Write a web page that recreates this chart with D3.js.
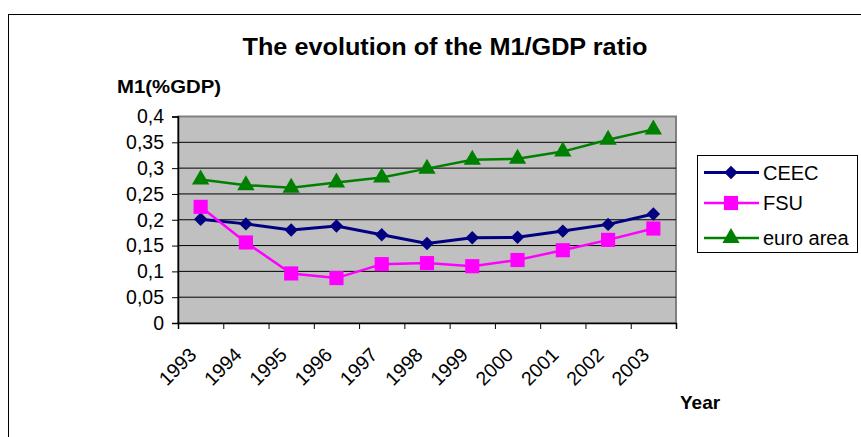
<!DOCTYPE html>
<html>
<head>
<meta charset="utf-8">
<script src="https://cdn.jsdelivr.net/npm/d3@7"></script>
<style>
  body { margin: 0; background: #fff; }
  text { font-family: Arial, "Liberation Sans", sans-serif; }
</style>
</head>
<body>
<svg id="chart"></svg>
<script>
const years = ['1993', '1994', '1995', '1996', '1997', '1998', '1999', '2000', '2001', '2002', '2003'];
const ceec = [0.201, 0.192, 0.180, 0.188, 0.171, 0.154, 0.165, 0.166, 0.178, 0.191, 0.211];
const fsu = [0.225, 0.156, 0.096, 0.087, 0.114, 0.116, 0.110, 0.122, 0.141, 0.161, 0.183];
const euroArea = [0.278, 0.267, 0.262, 0.272, 0.282, 0.299, 0.316, 0.318, 0.332, 0.355, 0.375];
const yTicks = [0, 0.05, 0.1, 0.15, 0.2, 0.25, 0.3, 0.35, 0.4];

// diamond = square turned 45 degrees
const diamond = {
  draw(context, size) {
    const r = Math.sqrt(size / 2);
    context.moveTo(0, -r);
    context.lineTo(r, 0);
    context.lineTo(0, r);
    context.lineTo(-r, 0);
    context.closePath();
  }
};

const series = [
  { name: 'CEEC', values: ceec, color: '#000080', symbol: diamond, size: 90, width: 3 },
  { name: 'FSU', values: fsu, color: '#FF00FF', symbol: d3.symbolSquare, size: 200, width: 2.5 },
  { name: 'euro area', values: euroArea, color: '#008000', symbol: d3.symbolTriangle, size: 130, width: 2.5 }
];

class LineChart {
  constructor(_config) {
    this.config = {
      parentElement: _config.parentElement,
      containerWidth: _config.containerWidth || 861,
      containerHeight: _config.containerHeight || 437,
      plot: { left: 178, right: 676, top: 116.5, bottom: 323 }
    }
    this.init();
  }

  init() {
    let vis = this;
    let p = vis.config.plot;

    vis.svg = d3.select(vis.config.parentElement)
      .attr('width', vis.config.containerWidth)
      .attr('height', vis.config.containerHeight);

    // outer chart frame (right and bottom edges fall outside the picture)
    vis.svg.append('rect')
      .attr('x', 8.5)
      .attr('y', 14.5)
      .attr('width', 900)
      .attr('height', 500)
      .style('fill', '#fff')
      .style('stroke', '#000')
      .style('stroke-width', 1);

    vis.x = d3.scaleBand().domain(years).range([p.left, p.right]);
    vis.y = d3.scaleLinear().domain([0, 0.4]).range([p.bottom, p.top]);

    vis.svg.append('rect')
      .attr('x', p.left)
      .attr('y', p.top)
      .attr('width', p.right - p.left)
      .attr('height', p.bottom - p.top)
      .style('fill', '#C0C0C0')
      .style('stroke', '#808080')
      .style('stroke-width', 2);

    // gridlines
    vis.svg.append('g')
      .selectAll('line')
      .data(yTicks.filter(d => d > 0 && d < 0.4))
      .join('line')
      .attr('x1', p.left)
      .attr('x2', p.right)
      .attr('y1', d => vis.y(d))
      .attr('y2', d => vis.y(d))
      .style('stroke', '#000')
      .style('stroke-width', 1);

    vis.yAxis = vis.svg.append('g')
      .attr('transform', `translate(${p.left},0)`)
      .call(d3.axisLeft(vis.y).tickValues(yTicks).tickSize(6).tickPadding(8)
        .tickFormat(d => String(d).replace('.', ',')));
    vis.yAxis.select('.domain').style('stroke', '#000').style('stroke-width', 1.5);
    vis.yAxis.selectAll('.tick line').style('stroke', '#000');
    vis.yAxis.selectAll('text')
      .style('font-size', '19.5px')
      .style('fill', '#000');

    vis.xAxis = vis.svg.append('g')
      .attr('transform', `translate(0,${p.bottom})`)
      .call(d3.axisBottom(d3.scaleLinear().domain([0, years.length]).range([p.left, p.right]))
        .ticks(years.length).tickSize(6).tickFormat(''));
    vis.xAxis.select('.domain').style('stroke', '#000').style('stroke-width', 1.5);
    vis.xAxis.selectAll('.tick line').style('stroke', '#000');

    vis.svg.append('g')
      .selectAll('text')
      .data(years)
      .join('text')
      .attr('transform', d => `translate(${vis.x(d) + vis.x.bandwidth() / 2 - 3},${p.bottom + 33}) rotate(-45)`)
      .attr('text-anchor', 'end')
      .style('font-size', '19.5px')
      .text(d => d);

    vis.svg.append('text')
      .attr('x', 445)
      .attr('y', 55)
      .attr('text-anchor', 'middle')
      .attr('textLength', 405)
      .attr('lengthAdjust', 'spacingAndGlyphs')
      .style('font-size', '23px')
      .style('font-weight', 'bold')
      .text('The evolution of the M1/GDP ratio');

    vis.svg.append('text')
      .attr('x', 117)
      .attr('y', 93)
      .attr('textLength', 104)
      .attr('lengthAdjust', 'spacingAndGlyphs')
      .style('font-size', '19px')
      .style('font-weight', 'bold')
      .text('M1(%GDP)');

    vis.svg.append('text')
      .attr('x', 680)
      .attr('y', 409)
      .style('font-size', '19px')
      .style('font-weight', 'bold')
      .text('Year');

    vis.render();
  }

  render() {
    let vis = this;
    let cx = d => vis.x(d) + vis.x.bandwidth() / 2;

    const line = d3.line()
      .x((d, i) => cx(years[i]))
      .y(d => vis.y(d));

    for (let s of series) {
      let g = vis.svg.append('g');
      g.append('path')
        .attr('d', line(s.values))
        .style('fill', 'none')
        .style('stroke', s.color)
        .style('stroke-width', s.width);
      g.selectAll('path.marker')
        .data(s.values)
        .join('path')
        .attr('class', 'marker')
        .attr('transform', (d, i) => `translate(${cx(years[i])},${vis.y(d)})`)
        .attr('d', d3.symbol().type(s.symbol).size(s.size))
        .style('fill', s.color);
    }

    // legend
    let lg = vis.svg.append('g');
    lg.append('rect')
      .attr('x', 697.5)
      .attr('y', 155.5)
      .attr('width', 160)
      .attr('height', 97)
      .style('fill', '#fff')
      .style('stroke', '#000')
      .style('stroke-width', 1);

    const rowY = [172.5, 203, 238];
    series.forEach((s, i) => {
      lg.append('line')
        .attr('x1', 704)
        .attr('x2', 759)
        .attr('y1', rowY[i])
        .attr('y2', rowY[i])
        .style('stroke', s.color)
        .style('stroke-width', s.width);
      lg.append('path')
        .attr('transform', `translate(731,${rowY[i]})`)
        .attr('d', d3.symbol().type(s.symbol).size(s.size))
        .style('fill', s.color);
      lg.append('text')
        .attr('x', 763)
        .attr('y', rowY[i] + 7)
        .style('font-size', '20px')
        .text(s.name);
    });
  }
}

new LineChart({ parentElement: '#chart' });
</script>
</body>
</html>
